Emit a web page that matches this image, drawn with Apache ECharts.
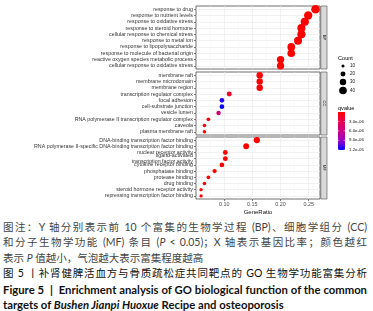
<!DOCTYPE html>
<html><head><meta charset="utf-8">
<script src="https://cdn.jsdelivr.net/npm/echarts@6/dist/echarts.min.js"></script>
<style>
html,body{margin:0;padding:0;background:#fff;width:373px;height:311px;overflow:hidden}
#chart{position:absolute;left:0;top:0;width:373px;height:216px}
#cap{position:absolute;left:3px;top:220px;width:364px;font-family:"Lato","Noto Sans CJK SC",sans-serif}
.l{height:15.4px;line-height:15.4px;white-space:nowrap;overflow:visible}
.j{text-align:justify;text-align-last:justify}
.g{font-size:10.5px;color:#444}
.k{font-size:10.5px;color:#111}
.e{font-size:11.3px;color:#111;font-weight:bold}
</style>
</head><body>
<div id="chart"></div>
<div id="cap">
<div class="l g j">图注：Y 轴分别表示前 10 个富集的生物学过程 (BP)、细胞学组分 (CC)</div>
<div class="l g j">和分子生物学功能 (MF) 条目 (<i>P</i> &lt; 0.05)；X 轴表示基因比率；颜色越红</div>
<div class="l g">表示 <i>P</i> 值越小，气泡越大表示富集程度越高</div>
<div class="l k j">图 5 丨补肾健脾活血方与骨质疏松症共同靶点的 GO 生物学功能富集分析</div>
<div class="l e j">Figure 5 &nbsp;|&nbsp; Enrichment analysis of GO biological function of the common</div>
<div class="l e">targets of <i>Bushen Jianpi Huoxue</i> Recipe and osteoporosis</div>
</div>
<script>
// ---------- data ----------
const panels = ['BP', 'CC', 'MF'];

const bpTerms = ['response to drug', 'response to nutrient levels', 'response to oxidative stress',
  'response to steroid hormone', 'cellular response to chemical stress', 'response to metal ion',
  'response to lipopolysaccharide', 'response to molecule of bacterial origin',
  'reactive oxygen species metabolic process', 'cellular response to oxidative stress'];
const bpRatio = [0.262, 0.249, 0.243, 0.237, 0.237, 0.231, 0.219, 0.219, 0.200, 0.200];
const bpCount = [48, 46, 45, 44, 44, 43, 40, 40, 37, 37];
const bpQ = [1e-20, 1e-18, 1e-17, 1e-16, 1e-16, 1e-15, 1e-14, 1e-14, 1e-12, 1e-12];

const ccTerms = ['membrane raft', 'membrane microdomain', 'membrane region', 'transcription regulator complex',
  'focal adhesion', 'cell-substrate junction', 'vesicle lumen',
  'RNA polymerase II transcription regulator complex', 'caveola', 'plasma membrane raft'];
const ccRatio = [0.163, 0.163, 0.163, 0.109, 0.096, 0.096, 0.090, 0.072, 0.065, 0.065];
const ccCount = [30, 30, 30, 20, 18, 18, 17, 13, 12, 12];
const ccQ = [2e-9, 2e-9, 3e-9, 1.4e-6, 1.15e-5, 1.18e-5, 4.8e-6, 4e-7, 2e-7, 2e-7];

const mfTerms = ['DNA-binding transcription factor binding',
  'RNA polymerase II-specific DNA-binding transcription factor binding', 'nuclear receptor activity',
  'ligand-activated\ntranscription factor activity', 'cytokine receptor binding', 'phosphatase binding',
  'protease binding', 'drug binding', 'steroid hormone receptor activity', 'repressing transcription factor binding'];
const mfRatio = [0.158, 0.139, 0.102, 0.102, 0.096, 0.083, 0.072, 0.065, 0.059, 0.059];
const mfCount = [29, 26, 19, 19, 18, 16, 13, 12, 11, 11];
const mfQ = [1e-12, 1e-11, 1e-9, 1e-9, 5e-9, 2e-8, 6e-8, 8e-8, 1e-7, 1e-7];

const xMin = 0.05, xMax = 0.27, xInterval = 0.05;
const countBreaks = [10, 20, 30, 40];
const qBreaks = [3e-6, 6e-6, 9e-6, 1.2e-5];
const qMin = 0, qMax = 1.21e-5;
const qColors = ['#FF0000', '#E8004F', '#CA0088', '#9A00C2', '#0000FF'];

// ---------- layout ----------
const plotLeft = 196, plotW = 124;
const gridTops = [6, 72, 137];
const gridHs = [63, 63, 62];
const termSets = [bpTerms, ccTerms, mfTerms];
const ratioSets = [bpRatio, ccRatio, mfRatio];
const countSets = [bpCount, ccCount, mfCount];
const qSets = [bpQ, ccQ, mfQ];

const sizeOf = c => 1.45 * Math.sqrt(c) - 1.5;
const fmtSci = v => {
  const [m, e] = v.toExponential(1).split('e');
  const n = Math.abs(+e);
  return m + 'e' + (e[0] === '-' ? '-' : '+') + String(n).padStart(2, '0');
};
const labelFont = '"Liberation Sans", Arial, sans-serif';

const chart = echarts.init(document.getElementById('chart'), null, {renderer: 'canvas'});

const grids = [], xAxes = [], yAxes = [], series = [];
panels.forEach((p, i) => {
  grids.push({left: plotLeft, width: plotW, top: gridTops[i], height: gridHs[i],
    show: true, borderColor: '#4a4a4a', borderWidth: 0.8, backgroundColor: '#fff'});
  const bottom = i === panels.length - 1;
  xAxes.push({
    type: 'value', gridIndex: i, min: xMin, max: xMax, interval: xInterval,
    axisLine: {show: false},
    axisTick: {show: bottom, length: 2, lineStyle: {color: '#333', width: 0.6}},
    axisLabel: {show: bottom, fontSize: 5.4, color: '#4D4D4D', margin: 3, fontFamily: labelFont,
      showMinLabel: false, showMaxLabel: false, formatter: v => v.toFixed(2)},
    splitLine: {show: true, showMinLine: false, showMaxLine: false, lineStyle: {color: '#EBEBEB', width: 0.7}},
    minorTick: {show: false, splitNumber: 2},
    minorSplitLine: {show: true, lineStyle: {color: '#F4F4F4', width: 0.5}},
    name: bottom ? 'GeneRatio' : '', nameLocation: 'middle', nameGap: 10,
    nameTextStyle: {fontSize: 6, color: '#111', fontFamily: labelFont}
  });
  yAxes.push({
    type: 'category', gridIndex: i, data: termSets[i], inverse: true,
    axisLine: {show: false},
    axisTick: {show: true, alignWithLabel: true, length: 2, lineStyle: {color: '#333', width: 0.6}},
    axisLabel: {fontSize: 5.3, color: '#333', margin: 3, fontFamily: labelFont, lineHeight: 5.6, interval: 0},
    splitLine: {show: true, alignWithLabel: true, lineStyle: {color: '#EBEBEB', width: 0.7}}
  });
  series.push({
    type: 'scatter', xAxisIndex: i, yAxisIndex: i,
    data: termSets[i].map((t, j) => [ratioSets[i][j], t, qSets[i][j], countSets[i][j]]),
    encode: {x: 0, y: 1},
    symbolSize: v => sizeOf(v[3]),
    itemStyle: {opacity: 1},
    z: 3
  });
});

// strips and legends (graphic)
const graphics = [];
panels.forEach((p, i) => {
  graphics.push({type: 'rect', shape: {x: plotLeft + plotW + 0.8, y: gridTops[i], width: 6.2, height: gridHs[i]},
    style: {fill: '#D9D9D9', stroke: '#4a4a4a', lineWidth: 0.6}, z: 10});
  graphics.push({type: 'text', x: plotLeft + plotW + 3.9, y: gridTops[i] + gridHs[i] / 2, rotation: -Math.PI / 2,
    style: {text: p, fontSize: 4, fill: '#1A1A1A', align: 'center', verticalAlign: 'middle', fontFamily: labelFont}, z: 11});
});
// Count legend
const legX = 338;
graphics.push({type: 'text', x: legX, y: 58, style: {text: 'Count', fontSize: 5.6, fill: '#000', verticalAlign: 'middle', fontFamily: labelFont}});
const countY = [66, 74, 82, 90.5];
countBreaks.forEach((c, k) => {
  graphics.push({type: 'circle', shape: {cx: legX + 5, cy: countY[k], r: sizeOf(c) / 2}, style: {fill: '#000'}});
  graphics.push({type: 'text', x: legX + 12, y: countY[k], style: {text: String(c), fontSize: 4.5, fill: '#111', verticalAlign: 'middle', fontFamily: labelFont}});
});
// qvalue colorbar
const barTop = 112, barH = 38, barW = 7;
graphics.push({type: 'text', x: legX, y: 108, style: {text: 'qvalue', fontSize: 5.6, fill: '#000', verticalAlign: 'middle', fontFamily: labelFont}});
graphics.push({type: 'rect', shape: {x: legX, y: barTop, width: barW, height: barH},
  style: {fill: new echarts.graphic.LinearGradient(0, 0, 0, 1,
    qColors.map((c, k) => ({offset: k / (qColors.length - 1), color: c})))}});
qBreaks.forEach(q => {
  const y = barTop + (q - qMin) / (qMax - qMin) * barH;
  graphics.push({type: 'line', shape: {x1: legX, y1: y, x2: legX + 1.4, y2: y}, style: {stroke: '#fff', lineWidth: 0.5}});
  graphics.push({type: 'line', shape: {x1: legX + barW - 1.4, y1: y, x2: legX + barW, y2: y}, style: {stroke: '#fff', lineWidth: 0.5}});
  graphics.push({type: 'text', x: legX + barW + 4, y: y, style: {text: fmtSci(q), fontSize: 4.4, fill: '#111', verticalAlign: 'middle', fontFamily: labelFont}});
});

chart.setOption({
  animation: false,
  backgroundColor: '#fff',
  grid: grids, xAxis: xAxes, yAxis: yAxes, series: series,
  visualMap: {type: 'continuous', show: false, seriesIndex: [0, 1, 2], dimension: 2,
    min: qMin, max: qMax, inRange: {color: qColors}},
  graphic: graphics
});
</script>
</body></html>
